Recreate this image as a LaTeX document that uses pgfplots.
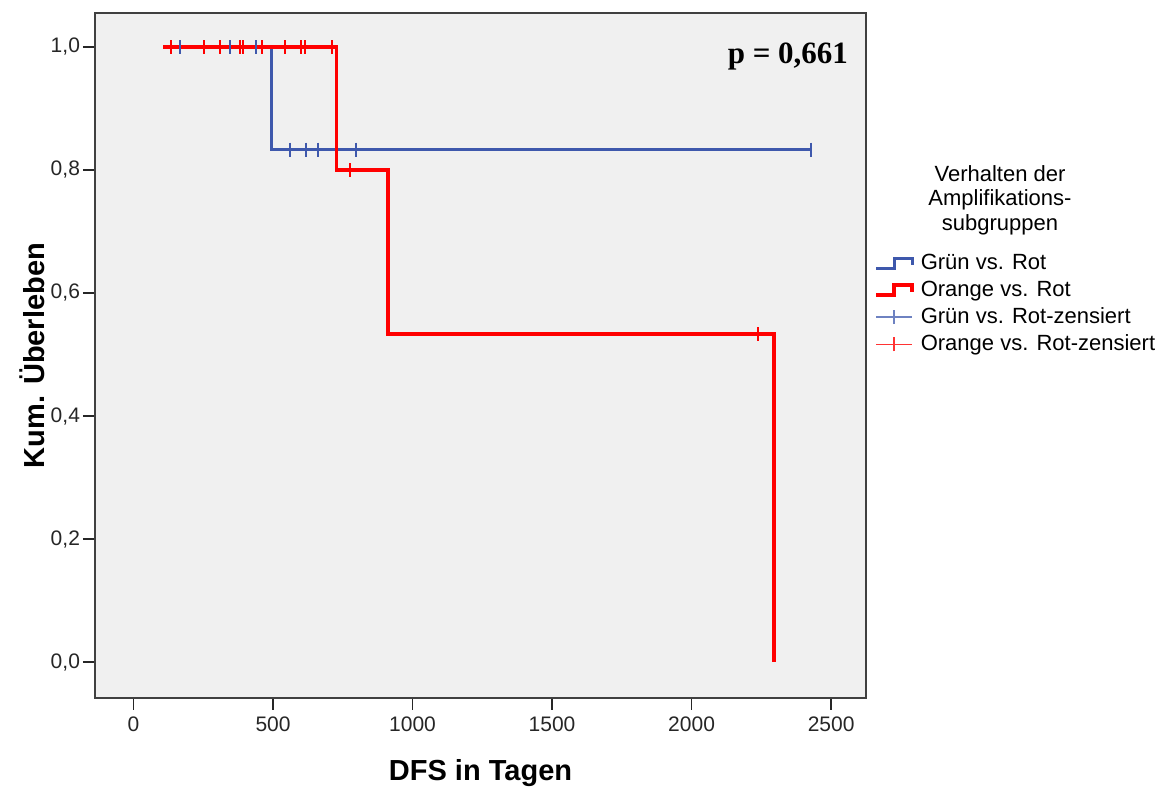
\documentclass[border=0pt]{standalone}
\usepackage{fontspec}
\setmainfont{Liberation Sans}
\newfontfamily\pfont{Liberation Serif}
\usepackage{pgfplots}
\pgfplotsset{compat=1.18}
\definecolor{spssblue}{RGB}{62,88,172}
\definecolor{spssred}{RGB}{255,0,0}
\definecolor{bggray}{RGB}{240,240,240}
\begin{document}
\begin{tikzpicture}
\begin{axis}[
  name=ax,
  scale only axis,
  width=385.5pt, height=342.5pt,
  xmin=-138, xmax=2625,
  ymin=-0.0585, ymax=1.0553,
  axis background/.style={fill=bggray},
  axis line style={draw=black!75, line width=0.9pt},
  xtick pos=bottom, ytick pos=left,
  tick align=outside,
  major tick length=6pt,
  tick style={black!85, line width=0.7pt},
  xtick={0,500,1000,1500,2000,2500},
  xticklabels={0,500,1000,1500,2000,2500},
  ytick={0,0.2,0.4,0.6,0.8,1},
  yticklabels={{0,0},{0,2},{0,4},{0,6},{0,8},{1,0}},
  tick label style={font=\fontsize{10.5}{12}\selectfont, text=black!85},
  xticklabel style={yshift=0pt},
  yticklabel style={xshift=2pt},
  xlabel={\bfseries DFS in Tagen},
  ylabel={\bfseries Kum. Überleben},
  label style={font=\fontsize{14.5}{16}\selectfont},
  xlabel style={at={(rel axis cs:0.5,0)}, anchor=center, yshift=-37.5pt},
  ylabel style={at={(rel axis cs:0,0.5)}, anchor=center, yshift=31.5pt},
  clip=false,
  legend style={draw=none, fill=none, at={(rel axis cs:1,0.653)}, xshift=4pt, anchor=north west,
    font=\fontsize{11}{12}\selectfont, inner sep=0pt, row sep=1.2pt,
    nodes={inner sep=1.5pt},
    /tikz/every odd column/.append style={column sep=2pt}},
  legend cell align=left,
]
% Kaplan-Meier steps
\addplot[spssblue, line width=1.45pt, const plot, forget plot] coordinates {
  (106,1) (496,0.8333) (2427,0.8333)};
\addplot[spssred, line width=1.8pt, const plot, forget plot] coordinates {
  (106,1) (728,0.8) (912,0.5333) (2296,0)};
% censored
\addplot[spssblue, only marks, mark=|, mark size=3.5pt, mark options={line width=0.9pt}, forget plot] coordinates {
  (167,1) (346,1) (439,1) (561,0.8333) (617,0.8333) (662,0.8333) (796,0.8333) (2427,0.8333)};
\addplot[spssred, only marks, mark=|, mark size=3.5pt, mark options={line width=0.9pt}, forget plot] coordinates {
  (133,1) (253,1) (310,1) (382,1) (392,1) (461,1) (543,1) (599,1) (615,1) (710,1) (776,0.8) (2239,0.5333)};
% legend
\addlegendimage{legend image code/.code={\draw[spssblue, line width=1.4pt] (0pt,-2.5pt) -- (9pt,-2.5pt) -- (9pt,2.5pt) -- (18pt,2.5pt) -- (18pt,-1pt);}}
\addlegendentry{Grün vs. Rot}
\addlegendimage{legend image code/.code={\draw[spssred, line width=1.7pt] (0pt,-2.5pt) -- (9pt,-2.5pt) -- (9pt,2.5pt) -- (18pt,2.5pt) -- (18pt,-1pt);}}
\addlegendentry{Orange vs. Rot}
\addlegendimage{legend image code/.code={\draw[spssblue!75, line width=0.8pt] (0pt,0pt) -- (18pt,0pt); \draw[spssblue!75, line width=0.8pt] (9pt,-3.5pt) -- (9pt,3.5pt);}}
\addlegendentry{Grün vs. Rot-zensiert}
\addlegendimage{legend image code/.code={\draw[spssred!80, line width=0.8pt] (0pt,0pt) -- (18pt,0pt); \draw[spssred!80, line width=0.8pt] (9pt,-3.5pt) -- (9pt,3.5pt);}}
\addlegendentry{Orange vs. Rot-zensiert}
\node[font=\pfont\bfseries\fontsize{15.5}{17}\selectfont, anchor=center] at (axis cs:2345,0.985) {p = 0,661};
\node[font=\fontsize{11}{12.25}\selectfont, align=center, anchor=north, inner sep=0pt] at ([xshift=67pt,yshift=-1.5pt]rel axis cs:1,0.7825) {Verhalten der\\Amplifikations-\\subgruppen};
\end{axis}
\pgfresetboundingbox
\path ([shift={(-47.5pt,-44.5pt)}]ax.south west) rectangle ++(581pt,393.5pt);
\end{tikzpicture}
\end{document}
